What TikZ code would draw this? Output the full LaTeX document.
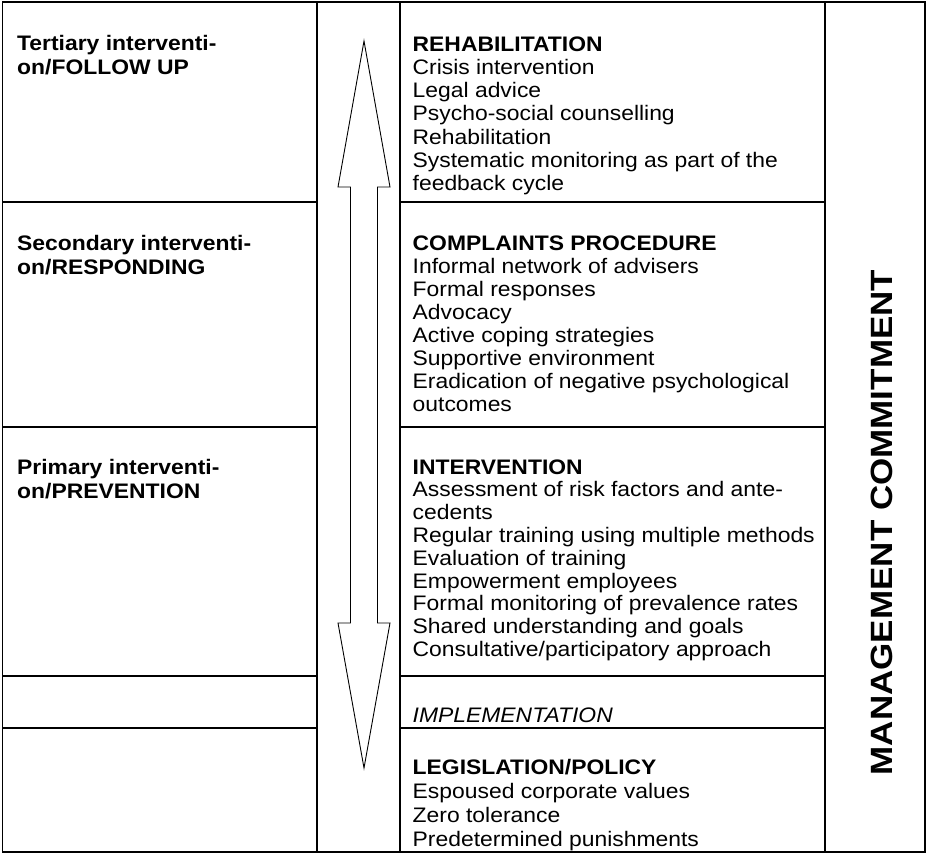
\documentclass[tikz,border=0pt]{standalone}
\usepackage{fontspec}
\setmainfont{Liberation Sans}[FakeStretch=1.09]
\begin{document}
\begin{tikzpicture}[x=1pt,y=-1pt,
  frame/.style={line width=1.8pt, line cap=rect},
  arrowshape/.style={line width=0.9pt, line join=miter},
  lefttxt/.style={anchor=base west, inner sep=0pt, align=left, font=\bfseries\fontsize{21}{24}\selectfont},
  righttxt/.style={anchor=base west, inner sep=0pt, align=left},
  mgmt/.style={inner sep=0pt, rotate=90, font=\bfseries\fontsize{29}{30}\selectfont}]
\useasboundingbox (0,0) rectangle (926,854);
% frame
\draw[frame] (2.5,2) rectangle (925,852);
\draw[frame] (317,2) -- (317,852);
\draw[frame] (400,2) -- (400,852);
\draw[frame] (825,2) -- (825,852);
\foreach \yy in {202,427,676,728}{
  \draw[frame] (2.5,\yy) -- (317,\yy);
  \draw[frame] (400,\yy) -- (825,\yy);
}
% double arrow
\draw[arrowshape] (364,41) -- (390,187) -- (377.5,187) -- (377.5,623) -- (390,623) -- (364,768)
  -- (338,623) -- (350.5,623) -- (350.5,187) -- (338,187) -- cycle;
% left column (anchored at the baseline of the last line)
\node[lefttxt] (tert) at (17,74.5) {Tertiary interventi-\\on/FOLLOW UP};
\node[lefttxt] (sec) at (17,274) {Secondary interventi-\\on/RESPONDING};
\node[lefttxt] (prim) at (17,498) {Primary interventi-\\on/PREVENTION};
% right column (anchored at the baseline of the last line)
\node[righttxt, font=\fontsize{21}{23.2}\selectfont] (rehab) at (412.5,190.5) {\textbf{REHABILITATION}\\
Crisis intervention\\
Legal advice\\
Psycho-social counselling\\
Rehabilitation\\
Systematic monitoring as part of the\\
feedback cycle};
\node[righttxt, font=\fontsize{21}{23}\selectfont] (compl) at (412.5,411) {\textbf{COMPLAINTS PROCEDURE}\\
Informal network of advisers\\
Formal responses\\
Advocacy\\
Active coping strategies\\
Supportive environment\\
Eradication of negative psychological\\
outcomes};
\node[righttxt, font=\fontsize{21}{22.8}\selectfont] (interv) at (412.5,656.4) {\textbf{INTERVENTION}\\
Assessment of risk factors and ante-\\
cedents\\
Regular training using multiple methods\\
Evaluation of training\\
Empowerment employees\\
Formal monitoring of prevalence rates\\
Shared understanding and goals\\
Consultative/participatory approach};
\node[righttxt, font=\itshape\fontsize{21}{23}\selectfont] (impl) at (412.5,722) {IMPLEMENTATION};
\node[righttxt, font=\fontsize{21}{24.2}\selectfont] (legis) at (412.5,846.6) {\textbf{LEGISLATION/POLICY}\\
Espoused corporate values\\
Zero tolerance\\
Predetermined punishments};
% management commitment
\node[mgmt] (mgmt) at (881.5,522.5) {\scalebox{1.107}[1.06]{MANAGEMENT COMMITMENT}};
\end{tikzpicture}
\end{document}
